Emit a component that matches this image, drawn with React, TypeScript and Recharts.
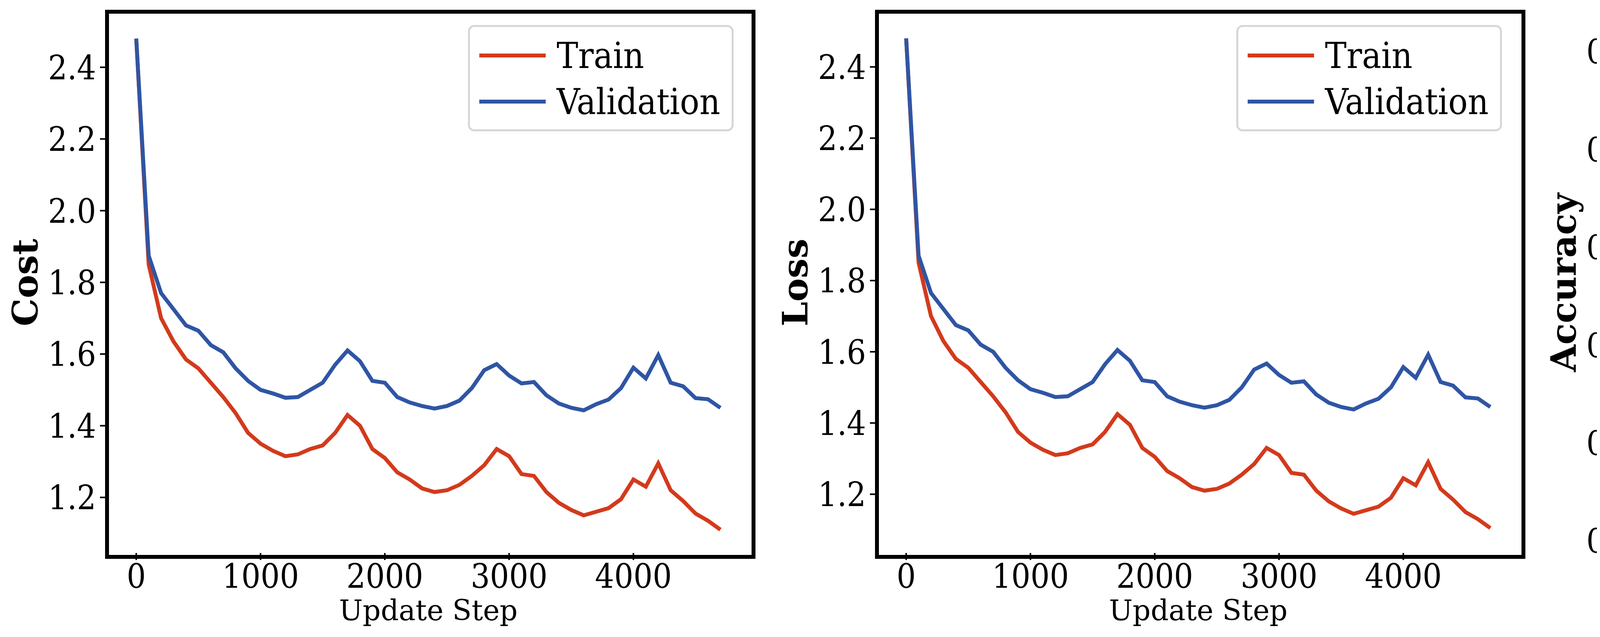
import React from 'react';
import { LineChart, Line, XAxis, YAxis } from 'recharts';

const steps = [0,100,200,300,400,500,600,700,800,900,1000,1100,1200,1300,1400,1500,1600,1700,1800,1900,2000,2100,2200,2300,2400,2500,2600,2700,2800,2900,3000,3100,3200,3300,3400,3500,3600,3700,3800,3900,4000,4100,4200,4300,4400,4500,4600,4700];

const costTrain = [2.48,1.85,1.70,1.635,1.585,1.56,1.52,1.48,1.435,1.38,1.35,1.33,1.315,1.32,1.335,1.345,1.38,1.43,1.40,1.335,1.31,1.27,1.25,1.225,1.215,1.22,1.235,1.26,1.29,1.335,1.315,1.265,1.26,1.215,1.185,1.165,1.15,1.16,1.17,1.195,1.25,1.23,1.295,1.22,1.19,1.155,1.135,1.11];
const costVal = [2.48,1.875,1.77,1.725,1.68,1.665,1.625,1.605,1.56,1.525,1.50,1.49,1.478,1.48,1.50,1.52,1.57,1.61,1.58,1.525,1.52,1.48,1.465,1.455,1.448,1.455,1.47,1.505,1.555,1.572,1.54,1.518,1.522,1.485,1.462,1.45,1.443,1.46,1.473,1.505,1.562,1.532,1.597,1.52,1.51,1.477,1.474,1.45];
const lossTrain = [2.48,1.85,1.70,1.63,1.58,1.555,1.515,1.475,1.43,1.375,1.345,1.325,1.31,1.315,1.33,1.34,1.375,1.425,1.395,1.33,1.305,1.265,1.245,1.22,1.21,1.215,1.23,1.255,1.285,1.33,1.31,1.26,1.255,1.21,1.18,1.16,1.145,1.155,1.165,1.19,1.245,1.225,1.29,1.215,1.185,1.15,1.13,1.105];
const lossVal = [2.48,1.87,1.765,1.72,1.675,1.66,1.62,1.6,1.555,1.52,1.495,1.485,1.473,1.475,1.495,1.515,1.565,1.605,1.575,1.52,1.515,1.475,1.46,1.45,1.443,1.45,1.465,1.5,1.55,1.567,1.535,1.513,1.517,1.48,1.457,1.445,1.438,1.455,1.468,1.5,1.557,1.527,1.592,1.515,1.505,1.472,1.469,1.445];
const accTrain = [0.113,0.355,0.405,0.425,0.445,0.45,0.467,0.48,0.50,0.52,0.532,0.541,0.546,0.542,0.535,0.529,0.512,0.49,0.518,0.538,0.545,0.556,0.568,0.576,0.581,0.579,0.572,0.565,0.55,0.538,0.543,0.556,0.563,0.578,0.594,0.600,0.605,0.598,0.597,0.585,0.564,0.570,0.547,0.574,0.586,0.598,0.608,0.617];
const accVal = [0.113,0.352,0.38,0.40,0.419,0.416,0.43,0.44,0.455,0.479,0.482,0.485,0.492,0.489,0.486,0.469,0.452,0.445,0.466,0.477,0.476,0.492,0.494,0.496,0.499,0.494,0.488,0.479,0.465,0.473,0.471,0.475,0.481,0.494,0.496,0.505,0.503,0.497,0.499,0.49,0.475,0.475,0.465,0.477,0.488,0.494,0.495,0.505];

const xTicks = [0,1000,2000,3000,4000];
const lossTicks = [1.2,1.4,1.6,1.8,2.0,2.2,2.4];
const accTicks = [0.1,0.2,0.3,0.4,0.5,0.6];

const RED = '#d33a1c';
const BLUE = '#2f55a4';
const FONT = '"DejaVu Serif", serif';

const build = (a: number[], b: number[]) => steps.map((s, i) => ({ step: s, train: a[i], val: b[i] }));

type PanelProps = {
  left: number; right: number; data: any[]; domain: [number, number]; ticks: number[];
  ylabel: string; legendTop: number; legendLeft: number;
};

const TOP = 30, BOTTOM = 1415, H = 1630, YW = 250;
const tickStyle = { fontSize: 86, fill: '#000', fontFamily: FONT, fontStretch: 'condensed' } as any;

function Panel({ left, right, data, domain, ticks, ylabel, legendTop, legendLeft }: PanelProps) {
  const w = right - left;
  return (
    <>
      <div style={{ position: 'absolute', left: left - YW, top: 0 }}>
        <LineChart width={w + YW + 20} height={H} data={data} margin={{ top: TOP, right: 20, bottom: 0, left: 0 }}>
          <XAxis dataKey="step" type="number" domain={[-235, 4935]} ticks={xTicks} height={H - BOTTOM}
            tick={tickStyle} tickSize={18} tickMargin={10}
            axisLine={false} tickLine={{ stroke: '#000', strokeWidth: 4 }} allowDataOverflow />
          <YAxis type="number" domain={domain} ticks={ticks} width={YW} allowDataOverflow
            tickFormatter={(v: number) => v.toFixed(1)}
            tick={tickStyle} tickSize={18} tickMargin={10}
            axisLine={false} tickLine={{ stroke: '#000', strokeWidth: 4 }} />
          <Line dataKey="train" stroke={RED} strokeWidth={10} dot={false} isAnimationActive={false} />
          <Line dataKey="val" stroke={BLUE} strokeWidth={10} dot={false} isAnimationActive={false} />
        </LineChart>
      </div>
      <div style={{ position: 'absolute', left: left - 5, top: TOP - 5, width: w, height: BOTTOM - TOP, border: '10px solid #000', pointerEvents: 'none' }} />
      <div style={{ position: 'absolute', left: left + w / 2 - 300, width: 600, top: 1520, textAlign: 'center', fontFamily: FONT, fontSize: 72 }}>Update Step</div>
      <div style={{ position: 'absolute', left: left - 210 - 500, width: 1000, top: (TOP + BOTTOM) / 2 - 60, height: 120, lineHeight: '120px', textAlign: 'center', fontFamily: FONT, fontWeight: 'bold', fontSize: 90, transform: 'rotate(-90deg)' }}>{ylabel}</div>
      <div style={{ position: 'absolute', left: legendLeft, top: legendTop, width: 680, height: 272, border: '5px solid #d6d6d6', borderRadius: 16, background: 'rgba(255,255,255,0.8)', boxSizing: 'border-box', fontFamily: FONT, fontStretch: 'condensed', fontSize: 92 }}>
        {[['Train', RED], ['Validation', BLUE]].map(([t, c], i) => (
          <div key={t} style={{ position: 'absolute', left: 24, top: 14 + i * 118, height: 118, display: 'flex', alignItems: 'center' }}>
            <div style={{ width: 170, height: 10, background: c, marginRight: 28 }} />
            <span>{t}</span>
          </div>
        ))}
      </div>
    </>
  );
}

export default function App() {
  return (
    <div style={{ position: 'relative', margin: '-8px 0 0 -8px', width: 5887, height: 1630, background: '#fff', overflow: 'hidden' }}>
      <Panel left={274} right={1919} data={build(costTrain, costVal)} domain={[1.045, 2.555]} ticks={lossTicks} ylabel="Cost" legendLeft={1198} legendTop={64} />
      <Panel left={2245} right={3890} data={build(lossTrain, lossVal)} domain={[1.035, 2.555]} ticks={lossTicks} ylabel="Loss" legendLeft={3165} legendTop={64} />
      <Panel left={4212} right={5860} data={build(accTrain, accVal)} domain={[0.0875, 0.6407]} ticks={accTicks} ylabel="Accuracy" legendLeft={5132} legendTop={1077} />
    </div>
  );
}
